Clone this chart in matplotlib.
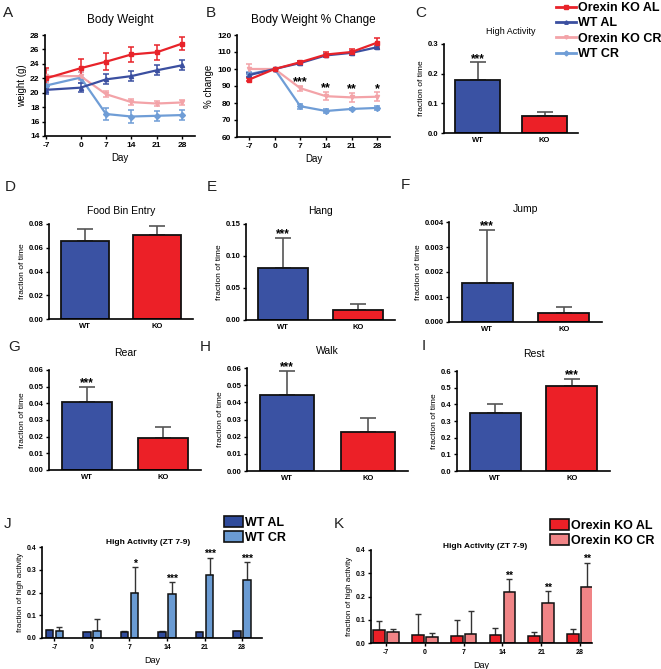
import matplotlib
matplotlib.use("Agg")
import matplotlib.pyplot as plt
import numpy as np
from matplotlib.lines import Line2D
from matplotlib.patches import Patch

W, H = 661, 669
plt.rcParams['font.family'] = ['Liberation Sans', 'DejaVu Sans']
plt.rcParams['font.weight'] = 'bold'
plt.rcParams['axes.linewidth'] = 1.2

# ---- data: body weight (A) and % change (B) ----
days = ["-7", "0", "7", "14", "21", "28"]
day_pos_a = [-9.5, 0, 7, 14, 21, 28]

bw_ko_al = [22.0, 23.4, 24.3, 25.3, 25.6, 26.8]
bw_ko_al_err = [1.4, 1.3, 1.2, 1.1, 1.0, 0.9]
bw_wt_al = [20.4, 20.7, 21.85, 22.3, 23.1, 23.8]
bw_wt_al_err = [0.6, 0.6, 0.7, 0.7, 0.7, 0.7]
bw_ko_cr = [22.3, 22.3, 19.8, 18.7, 18.5, 18.65]
bw_ko_cr_err = [0.9, 0.6, 0.4, 0.4, 0.4, 0.4]
bw_wt_cr = [21.0, 22.1, 17.05, 16.7, 16.8, 16.9]
bw_wt_cr_err = [0.5, 0.8, 0.9, 0.9, 0.7, 0.7]

pc_ko_al = [93.8, 100, 104, 108.5, 110, 115.5]
pc_ko_al_err = [1, 0, 1, 1.5, 1.5, 3]
pc_wt_al = [96.4, 100, 103.5, 108, 109.5, 112.8]
pc_wt_al_err = [1, 0, 1, 1, 1, 1]
pc_ko_cr = [100, 100, 88.7, 84, 83.3, 83.7]
pc_ko_cr_err = [3, 0, 1.5, 2.5, 2.5, 2.5]
pc_wt_cr = [97, 100, 78.1, 75.3, 76.5, 77.1]
pc_wt_cr_err = [1.5, 0, 1.5, 1, 0.5, 1]
pc_stars = ["", "", "***", "**", "**", "*"]

# ---- data: behaviour fractions (C-I) ----
genotypes = ["WT", "KO"]
high_act = [0.18, 0.056]
high_act_err = [0.058, 0.016]
food_bin = [0.0654, 0.071]
food_bin_err = [0.0106, 0.007]
hang = [0.0807, 0.0156]
hang_err = [0.0469, 0.0089]
jump = [0.00156, 0.00036]
jump_err = [0.00211, 0.00023]
rear = [0.0406, 0.019]
rear_err = [0.0094, 0.007]
walk = [0.044, 0.0226]
walk_err = [0.0144, 0.0082]
rest = [0.351, 0.51]
rest_err = [0.049, 0.044]

# ---- data: high activity ZT 7-9 (J, K) ----
j_wt_al = [0.033, 0.026, 0.028, 0.028, 0.026, 0.030]
j_wt_al_err = [0.003, 0.002, 0.002, 0.002, 0.002, 0.002]
j_wt_cr = [0.029, 0.029, 0.200, 0.193, 0.275, 0.257]
j_wt_cr_err = [0.019, 0.054, 0.110, 0.051, 0.078, 0.075]
j_stars = ["", "", "*", "***", "***", "***"]

k_ko_al = [0.054, 0.036, 0.031, 0.034, 0.029, 0.040]
k_ko_al_err = [0.042, 0.090, 0.066, 0.030, 0.017, 0.021]
k_ko_cr = [0.049, 0.026, 0.040, 0.221, 0.174, 0.239]
k_ko_cr_err = [0.011, 0.015, 0.099, 0.053, 0.049, 0.107]
k_stars = ["", "", "", "**", "**", "**"]

RED = '#e8232a'
BLUE = '#3b4fa0'
PINK = '#f3a3a8'
LBLUE = '#6f9dd6'
BAR_BLUE = '#3a52a3'
BAR_RED = '#ec2027'
J_AL = '#2f4b9b'
J_CR = '#6a9bd3'
K_CR = '#f08486'

fig = plt.figure(figsize=(W / 100, H / 100), dpi=100)


def add_ax(l, t, r, b):
    ax = fig.add_axes([l / W, 1 - b / H, (r - l) / W, (b - t) / H])
    ax.spines['top'].set_visible(False)
    ax.spines['right'].set_visible(False)
    ax.tick_params(width=1.0, length=2.5, labelsize=5.5, pad=1.5)
    return ax


def panel_label(x, y, s):
    fig.text(x / W, 1 - y / H, s, fontsize=11, fontweight='normal',
             ha='left', va='center', color='#222222')


def star(ax, x, y, s, size=8.5, dy=0.5):
    if s:
        ax.annotate(s, (x, y), xytext=(0, dy), textcoords='offset points',
                    ha='center', va='baseline', fontsize=size)


# ---- A ----
ax = add_ax(45, 35, 195, 136)
series_a = [(bw_wt_cr, bw_wt_cr_err, LBLUE, 'D', 'WT CR'),
            (bw_ko_cr, bw_ko_cr_err, PINK, 'v', 'Orexin KO CR'),
            (bw_wt_al, bw_wt_al_err, BLUE, '^', 'WT AL'),
            (bw_ko_al, bw_ko_al_err, RED, 's', 'Orexin KO AL')]
for vals, err, c, m, lab in series_a:
    ax.errorbar(day_pos_a, vals, yerr=err, color=c, marker=m, ms=3,
                lw=1.6, elinewidth=1.1, capsize=2.5, capthick=1.1)
ax.set_xlim(-9.85, 31.6)
ax.set_ylim(14, 28)
ax.set_yticks(np.arange(14, 29, 2))
ax.set_xticks(day_pos_a)
ax.set_xticklabels(days)
ax.tick_params(labelsize=6)
ax.set_ylabel('weight (g)', fontsize=7, labelpad=2)
ax.set_xlabel('Day', fontsize=7, labelpad=3)
ax.set_title('Body Weight', fontsize=8.5, pad=9)
panel_label(3, 13, 'A')

# ---- B ----
ax = add_ax(237, 35, 390, 137)
xb = np.arange(len(days))
series_b = [(pc_wt_cr, pc_wt_cr_err, LBLUE, 'D'),
            (pc_ko_cr, pc_ko_cr_err, PINK, 'v'),
            (pc_wt_al, pc_wt_al_err, BLUE, '^'),
            (pc_ko_al, pc_ko_al_err, RED, 's')]
for vals, err, c, m in series_b:
    ax.errorbar(xb, vals, yerr=err, color=c, marker=m, ms=3,
                lw=1.6, elinewidth=1.1, capsize=2.5, capthick=1.1)
for i, s in enumerate(pc_stars):
    star(ax, xb[i], pc_ko_cr[i] + pc_ko_cr_err[i], s, size=9, dy=0.5)
ax.set_xlim(-0.47, 5.5)
ax.set_ylim(60, 120)
ax.set_yticks(np.arange(60, 121, 10))
ax.set_xticks(xb)
ax.set_xticklabels(days)
ax.tick_params(labelsize=6)
ax.set_ylabel('% change', fontsize=7, labelpad=2)
ax.set_xlabel('Day', fontsize=7, labelpad=3)
ax.set_title('Body Weight % Change', fontsize=8.5, pad=9)
panel_label(206, 13, 'B')

# ---- legend A/B ----
handles = [Line2D([], [], color=RED, marker='s', ms=2.5, lw=2),
           Line2D([], [], color=BLUE, marker='^', ms=2.5, lw=2),
           Line2D([], [], color=PINK, marker='v', ms=2.5, lw=2),
           Line2D([], [], color=LBLUE, marker='D', ms=2.5, lw=2)]
fig.legend(handles, ['Orexin KO AL', 'WT AL', 'Orexin KO CR', 'WT CR'],
           loc='upper left', bbox_to_anchor=(556 / W, 1 - 2 / H), frameon=False,
           prop={'size': 9, 'weight': 'bold'}, handlelength=1.6,
           handletextpad=0.15, labelspacing=0.27, borderpad=0, borderaxespad=0)


# ---- bar panels C-I ----
def bar_panel(box, vals, errs, ylim, yticks, fmt, title, stars, lab, labpos,
              title_size=7.5, title_pad=7):
    ax = add_ax(*box)
    x = np.arange(len(genotypes))
    ax.bar(x, vals, width=0.67, color=[BAR_BLUE, BAR_RED], edgecolor='#111111',
           linewidth=1.3, zorder=2)
    ax.errorbar(x, vals, yerr=[np.zeros(len(vals)), errs], fmt='none',
                ecolor='#555555', elinewidth=1.2, capsize=6, capthick=1.2, zorder=1)
    for i, s in enumerate(stars):
        star(ax, x[i], vals[i] + errs[i], s)
    ax.set_xlim(-0.5, 1.5)
    ax.set_ylim(*ylim)
    ax.set_yticks(yticks)
    ax.set_yticklabels([fmt.format(v) for v in yticks])
    ax.set_xticks(x)
    ax.set_xticklabels(genotypes)
    ax.tick_params(axis='x', length=0, pad=3)
    ax.set_ylabel('fraction of time', fontsize=6, labelpad=2)
    ax.set_title(title, fontsize=title_size, pad=title_pad)
    panel_label(labpos[0], labpos[1], lab)
    return ax


bar_panel((444, 44, 578, 133), high_act, high_act_err, (0, 0.3),
          [0, 0.1, 0.2, 0.3], '{:.1f}', 'High Activity', ['***', ''], 'C',
          (415, 13), title_size=6.5, title_pad=7)
bar_panel((49, 224, 193, 319), food_bin, food_bin_err, (0, 0.08),
          [0, 0.02, 0.04, 0.06, 0.08], '{:.2f}', 'Food Bin Entry', ['', ''],
          'D', (5, 187))
bar_panel((246, 224, 395, 320), hang, hang_err, (0, 0.15),
          [0, 0.05, 0.10, 0.15], '{:.2f}', 'Hang', ['***', ''], 'E', (207, 187))
bar_panel((449, 222, 602, 322), jump, jump_err, (0, 0.004),
          [0, 0.001, 0.002, 0.003, 0.004], '{:.3f}', 'Jump', ['***', ''],
          'F', (401, 185))
bar_panel((49, 370, 201, 470), rear, rear_err, (0, 0.06),
          [0, 0.01, 0.02, 0.03, 0.04, 0.05, 0.06], '{:.2f}', 'Rear',
          ['***', ''], 'G', (8, 347), title_pad=10)
bar_panel((247, 368, 408, 471), walk, walk_err, (0, 0.06),
          [0, 0.01, 0.02, 0.03, 0.04, 0.05, 0.06], '{:.2f}', 'Walk',
          ['***', ''], 'H', (200, 347), title_pad=10)
bar_panel((457, 371, 610, 471), rest, rest_err, (0, 0.6),
          [0, 0.1, 0.2, 0.3, 0.4, 0.5, 0.6], '{:.1f}', 'Rest',
          ['', '***'], 'I', (422, 346), title_pad=10)


# ---- J, K grouped bars ----
def group_panel(box, al, al_err, cr, cr_err, c_al, c_cr, stars, xlim, width, off,
                lab, labpos, names, leg_pos, title_pos):
    ax = add_ax(*box)
    x = np.arange(len(days))
    ax.bar(x - off, al, width=width, color=c_al, edgecolor='#111111',
           linewidth=1.1, zorder=2)
    ax.bar(x + off, cr, width=width, color=c_cr, edgecolor='#111111',
           linewidth=1.1, zorder=2)
    ax.errorbar(x - off, al, yerr=[np.zeros(len(al)), al_err], fmt='none',
                ecolor='#333333', elinewidth=1.0, capsize=2.5, capthick=1.0, zorder=1)
    ax.errorbar(x + off, cr, yerr=[np.zeros(len(cr)), cr_err], fmt='none',
                ecolor='#333333', elinewidth=1.0, capsize=2.5, capthick=1.0, zorder=1)
    for i, s in enumerate(stars):
        star(ax, x[i] + off, cr[i] + cr_err[i], s, size=7.5, dy=0.5)
    ax.set_xlim(*xlim)
    ax.set_ylim(0, 0.4)
    ax.set_yticks([0, 0.1, 0.2, 0.3, 0.4])
    ax.set_yticklabels(['0.0', '0.1', '0.2', '0.3', '0.4'])
    ax.set_xticks(x)
    ax.set_xticklabels(days)
    ax.tick_params(labelsize=5)
    ax.set_ylabel('fraction of high activity', fontsize=5.8, labelpad=2)
    ax.set_xlabel('Day', fontsize=6.5, labelpad=4)
    fig.text(title_pos[0] / W, 1 - title_pos[1] / H, 'High Activity (ZT 7-9)',
             fontsize=6, ha='center', va='center')
    panel_label(labpos[0], labpos[1], lab)
    hs = [Patch(facecolor=c_al, edgecolor='#111111', linewidth=1.2),
          Patch(facecolor=c_cr, edgecolor='#111111', linewidth=1.2)]
    fig.legend(hs, names, loc='upper left',
               bbox_to_anchor=(leg_pos[0] / W, 1 - leg_pos[1] / H), frameon=False,
               prop={'size': 9, 'weight': 'bold'}, handlelength=1.5,
               handleheight=1.0, handletextpad=0.15, labelspacing=0.15,
               borderpad=0, borderaxespad=0)
    return ax


group_panel((42, 547, 262, 638), j_wt_al, j_wt_al_err, j_wt_cr, j_wt_cr_err,
            J_AL, J_CR, j_stars, (-0.33, 5.53), 0.2, 0.135, 'J', (4, 524),
            ['WT AL', 'WT CR'], (224, 516), (148, 542))
group_panel((371, 550, 592, 643), k_ko_al, k_ko_al_err, k_ko_cr, k_ko_cr_err,
            BAR_RED, K_CR, k_stars, (-0.39, 5.31), 0.3, 0.18, 'K', (334, 524),
            ['Orexin KO AL', 'Orexin KO CR'], (550, 519), (485, 546))

fig.savefig('out.png', dpi=100)
